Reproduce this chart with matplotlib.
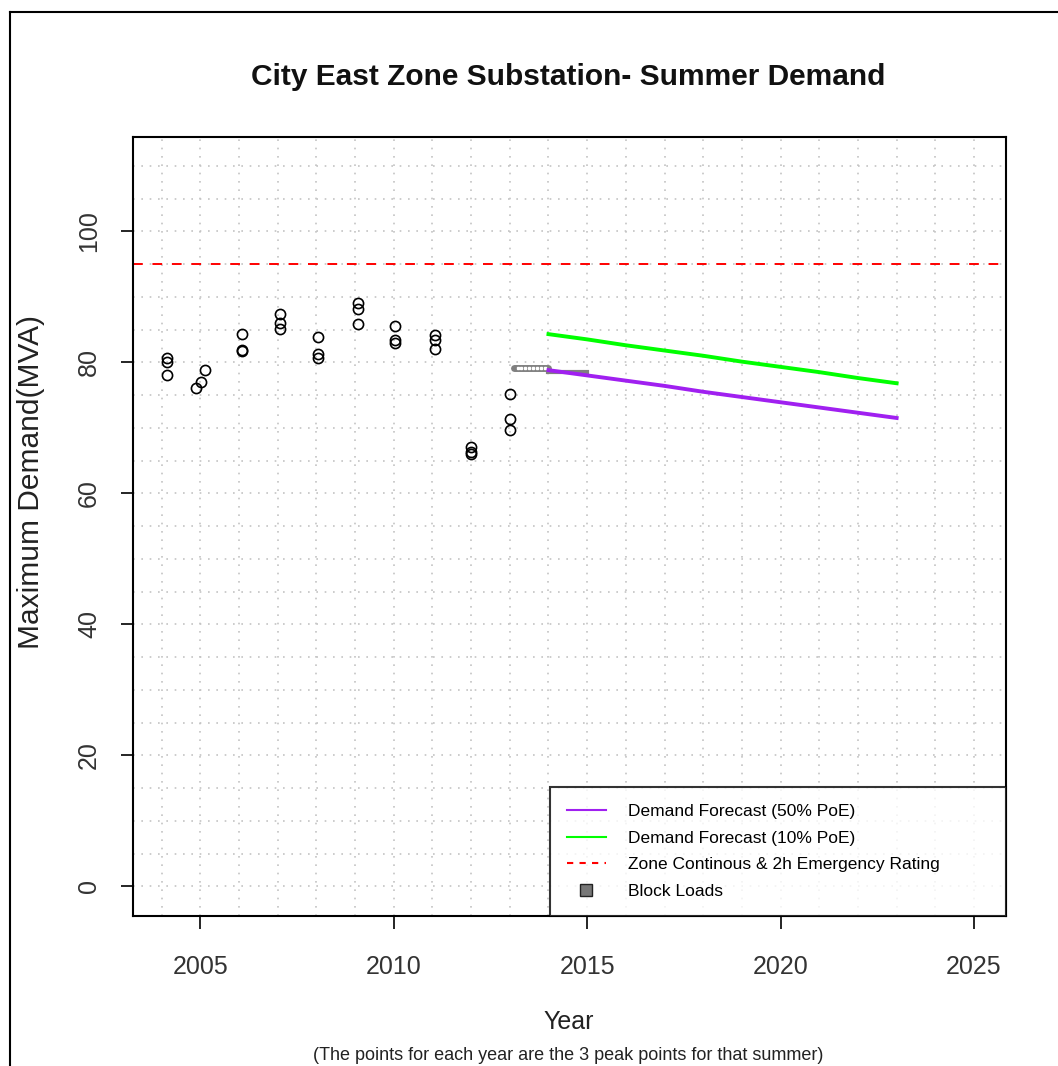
import numpy as np
import matplotlib
matplotlib.use("Agg")
import matplotlib.pyplot as plt
from matplotlib.lines import Line2D

plt.rcParams['font.family'] = ['Liberation Sans', 'DejaVu Sans']

# Three summer peak readings for each year (decimal year, MVA)
peak_years = [2004.13, 2004.13, 2004.13,
              2004.90, 2005.02, 2005.12,
              2006.09, 2006.09, 2006.09,
              2007.06, 2007.06, 2007.06,
              2008.05, 2008.05, 2008.05,
              2009.08, 2009.08, 2009.08,
              2010.03, 2010.03, 2010.03,
              2011.06, 2011.06, 2011.06,
              2012.01, 2012.01, 2012.01,
              2013.00, 2013.00, 2013.00]
peak_mva = [80.6, 80.0, 78.0,
            76.1, 77.0, 78.9,
            84.3, 81.9, 81.7,
            87.4, 86.0, 85.1,
            83.8, 81.3, 80.7,
            89.0, 88.2, 85.9,
            85.6, 83.4, 82.9,
            84.1, 83.4, 82.1,
            67.1, 66.3, 66.0,
            75.2, 71.4, 69.6]

# Block loads
block_years = [2013.1, 2013.2, 2013.3, 2013.4, 2013.5, 2013.6, 2013.7, 2013.8, 2013.9, 2014.0]
block_mva = [79.2, 79.2, 79.2, 79.2, 79.2, 79.2, 79.2, 79.2, 79.2, 79.2]
block_tail_years = [2014.0, 2015.0]
block_tail_mva = [78.5, 78.5]

# Forecasts
forecast_years = [2014, 2015, 2016, 2017, 2018, 2019, 2020, 2021, 2022, 2023]
poe50 = [78.8, 78.0, 77.2, 76.4, 75.5, 74.7, 73.9, 73.1, 72.3, 71.5]
poe10 = [84.3, 83.5, 82.6, 81.8, 81.0, 80.1, 79.3, 78.5, 77.6, 76.8]

rating = 95

x_ticks = [2005, 2010, 2015, 2020, 2025]
y_ticks = [0, 20, 40, 60, 80, 100]

fig = plt.figure(figsize=(10.58, 10.66), dpi=100)
ax = fig.add_axes([0.1257, 0.1403, 0.8249, 0.7312])

# dotted background grid, every year and every 5 MVA
for yr in range(2004, 2026):
    ax.axvline(yr, color='#c4c4c4', linestyle=(0, (1, 4)), linewidth=1.2, zorder=0)
for v in range(0, 115, 5):
    ax.axhline(v, color='#c4c4c4', linestyle=(0, (1, 4)), linewidth=1.2, zorder=0)

ax.axhline(rating, color='red', linestyle=(0, (5, 5)), linewidth=1.4, zorder=2)

ax.plot(peak_years, peak_mva, linestyle='none', marker='o', markersize=7.3,
        markerfacecolor='none', markeredgecolor='black', markeredgewidth=1.2, zorder=4)

ax.plot(block_tail_years, block_tail_mva, color='#808080', linewidth=3, zorder=2)
ax.plot(block_years, block_mva, color='#808080', linewidth=5, solid_capstyle='round', zorder=3)
ax.plot(block_years[1:-1], block_mva[1:-1], linestyle='none', marker='s', markersize=2,
        color='white', zorder=3)

ax.plot(forecast_years, poe10, color='#00ff00', linewidth=2.8, zorder=3)
ax.plot(forecast_years, poe50, color='#a020f0', linewidth=2.8, zorder=3)

ax.set_xlim(2003.26, 2025.82)
ax.set_ylim(-4.6, 114.4)
ax.set_xticks(x_ticks)
ax.set_yticks(y_ticks)
ax.set_yticklabels([str(t) for t in y_ticks], rotation=90, va='center')
ax.tick_params(axis='x', length=9, width=1.2, pad=19, labelsize=18)
ax.tick_params(axis='y', length=9, width=1.2, pad=14, labelsize=18)
ax.tick_params(axis='both', colors='black', labelcolor='#333333')
for s in ax.spines.values():
    s.set_linewidth(1.5)

handles = [
    Line2D([0], [0], color='#a020f0', linewidth=1.5),
    Line2D([0], [0], color='#00ff00', linewidth=1.5),
    Line2D([0], [0], color='red', linewidth=1.5, linestyle=(0, (3, 3))),
    Line2D([0], [0], linestyle='none', marker='s', markersize=9,
           markerfacecolor='#777777', markeredgecolor='#222222'),
]
labels = ['Demand Forecast (50% PoE)', 'Demand Forecast (10% PoE)',
          'Zone Continous & 2h Emergency Rating', 'Block Loads']
leg = ax.legend(handles, labels, loc='lower left', bbox_to_anchor=(0.4778, 0.0, 0.5222, 0.0),
                mode='expand', fontsize=12.5, frameon=True, fancybox=False, edgecolor='black',
                borderaxespad=0, handlelength=2.2, handletextpad=1.3,
                labelspacing=0.66, borderpad=1.0)
leg.get_frame().set_linewidth(1.5)

fig.text(0.537, 0.928, 'City East Zone Substation- Summer Demand', ha='center', va='center',
         fontsize=21.5, fontweight='bold', color='#111111')
fig.text(0.538, 0.041, 'Year', ha='center', va='center', fontsize=18, color='#222222')
fig.text(0.5375, 0.010, '(The points for each year are the 3 peak points for that summer)',
         ha='center', va='center', fontsize=13, color='#222222')
fig.text(0.029, 0.548, 'Maximum Demand(MVA)', ha='center', va='center', rotation=90,
         fontsize=21.5, color='#222222')

# outer frame that runs off the right and bottom of the image
fig.add_artist(Line2D([0.0095, 0.0095], [0.0, 0.9887], transform=fig.transFigure,
                      color='black', linewidth=1.5))
fig.add_artist(Line2D([0.0095, 1.0], [0.9887, 0.9887], transform=fig.transFigure,
                      color='black', linewidth=1.5))

fig.savefig('out.png', dpi=100)
